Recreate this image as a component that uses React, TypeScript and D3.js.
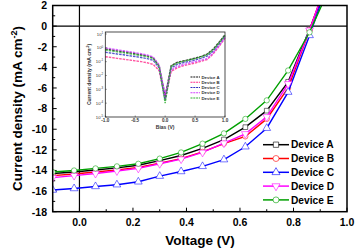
import React from 'react';
import * as d3 from 'd3';

// main J-V curves
const voltage = [-0.1, -0.02, 0.06, 0.14, 0.22, 0.3, 0.38, 0.46, 0.54, 0.62, 0.7, 0.78, 0.86, 0.94];
const deviceA = [-14.3, -14.15, -13.95, -13.75, -13.5, -13.05, -12.55, -11.85, -11.0, -9.8, -8.2, -5.4, -0.3, 5.0];
const deviceB = [-14.5, -14.35, -14.15, -13.95, -13.7, -13.3, -12.85, -12.2, -11.4, -10.7, -9.0, -6.0, -0.4, 5.5];
const deviceC = [-15.9, -15.75, -15.55, -15.38, -15.1, -14.55, -14.1, -13.6, -12.95, -11.7, -9.9, -6.4, -0.9, 5.0];
const deviceD = [-14.7, -14.5, -14.3, -14.05, -13.8, -13.35, -12.9, -12.25, -11.35, -10.45, -8.8, -5.6, -0.4, 5.5];
const deviceE = [-14.15, -14.0, -13.8, -13.6, -13.35, -12.85, -12.25, -11.4, -10.4, -9.0, -7.2, -4.3, -0.6, 4.0];

const devices = ['Device A', 'Device B', 'Device C', 'Device D', 'Device E'];
const xTicks = [0.0, 0.2, 0.4, 0.6, 0.8, 1.0];
const yTicks = [2, 0, -2, -4, -6, -8, -10, -12, -14, -16, -18];

// inset: dark current, log scale
const bias = [-1.0, -0.9, -0.8, -0.7, -0.6, -0.5, -0.4, -0.3, -0.2, -0.1, 0, 0.1, 0.2, 0.3, 0.4, 0.5, 0.6, 0.7, 0.8, 0.9, 1.0];
const darkA = [-0.08, -0.15, -0.22, -0.28, -0.35, -0.42, -0.5, -0.58, -0.72, -1.3, -3.5, -1.3, -1.05, -0.95, -0.85, -0.75, -0.62, -0.45, -0.1, 0.4, 0.95];
const darkB = [-0.64, -0.7, -0.76, -0.82, -0.88, -0.94, -1.0, -1.08, -1.2, -1.65, -3.7, -1.7, -1.45, -1.3, -1.2, -1.1, -0.98, -0.85, -0.45, 0.1, 0.7];
const darkC = [-0.32, -0.38, -0.45, -0.5, -0.57, -0.63, -0.7, -0.78, -0.9, -1.45, -3.8, -1.45, -1.2, -1.08, -0.98, -0.88, -0.76, -0.6, -0.25, 0.25, 0.85];
const darkD = [0.0, -0.07, -0.14, -0.21, -0.28, -0.35, -0.43, -0.52, -0.66, -1.25, -3.4, -1.6, -1.35, -1.22, -1.1, -1.0, -0.9, -0.78, -0.4, 0.15, 0.75];
const darkE = [-0.16, -0.22, -0.29, -0.35, -0.42, -0.49, -0.56, -0.64, -0.78, -1.35, -4.0, -1.35, -1.1, -0.98, -0.88, -0.78, -0.66, -0.5, -0.15, 0.35, 0.9];
const insetXTicks = [-1.0, -0.5, 0.0, 0.5, 1.0];
const insetYExp = [1, 0, -1, -2, -3, -4, -5];

const colors = ['#000000', '#ff0000', '#0000ff', '#ff00ff', '#00a000'];
const insetColors = ['#111111', '#ff2a8a', '#3030c0', '#d040ff', '#30b030'];
const symbols = [d3.symbolSquare, d3.symbolCircle, d3.symbolTriangle, d3.symbolTriangle, d3.symbolCircle];
const rotations = [0, 0, 0, 180, 0];

const W = 357, H = 252;
const left = 52.7, right = 347, top = 5.5, bottom = 211.7;

export default function App() {
  const x = d3.scaleLinear().domain([-0.1, 1.0]).range([left, right]);
  const y = d3.scaleLinear().domain([-18, 2]).range([bottom, top]);
  const series = [deviceA, deviceB, deviceC, deviceD, deviceE];
  const line = d3.line<number>().x((_, i) => x(voltage[i])).y(d => y(d));

  const ix = d3.scaleLinear().domain([-1, 1]).range([105.3, 225]);
  const iy = d3.scaleLog().domain([1e-5, 10]).range([117, 34]);
  const iTop = 32;
  const darkSeries = [darkA, darkB, darkC, darkD, darkE];
  const iline = d3.line<number>().x((_, i) => ix(bias[i])).y(d => iy(Math.pow(10, d)));

  const sym = (i: number, size: number) => d3.symbol().type(symbols[i]).size(size)() as string;
  const font = 'Arial, "Liberation Sans", sans-serif';

  const minorX = d3.range(-0.1, 1.0001, 0.1);
  const minorY = d3.range(-18, 2.001, 1);

  return (
    <svg width={W} height={H} style={{ position: 'absolute', left: 0, top: 0, background: '#fff' }} fontFamily={font}>
      <defs>
        <clipPath id="plot">
          <rect x={left} y={top} width={right - left} height={bottom - top} />
        </clipPath>
      </defs>
      {/* zero lines */}
      <line x1={x(0)} x2={x(0)} y1={top} y2={bottom} stroke="#000" strokeWidth={1.2} />
      <line x1={left} x2={right} y1={y(0)} y2={y(0)} stroke="#000" strokeWidth={1.2} />

      {/* ticks */}
      {minorX.map((v, i) => {
        const major = Math.abs(Math.round(v * 10)) % 2 === 0;
        return <line key={'xt' + i} x1={x(v)} x2={x(v)} y1={bottom} y2={bottom - (major ? 4 : 2.5)} stroke="#000" strokeWidth={1} />;
      })}
      {minorY.map((v, i) => {
        const major = Math.abs(Math.round(v)) % 2 === 0;
        return <line key={'yt' + i} x1={left} x2={left + (major ? 4 : 2.5)} y1={y(v)} y2={y(v)} stroke="#000" strokeWidth={1} />;
      })}
      {xTicks.map(v => (
        <text key={'xl' + v} x={x(v)} y={bottom + 14} textAnchor="middle" fontSize={10.5} fontWeight="bold">{v.toFixed(1)}</text>
      ))}
      {yTicks.map(v => (
        <text key={'yl' + v} x={47} y={y(v) + 3.8} textAnchor="end" fontSize={10.5} fontWeight="bold">{v}</text>
      ))}

      {/* curves */}
      <g clipPath="url(#plot)">
        {series.map((s, i) => (
          <g key={devices[i]}>
            <path d={line(s) as string} fill="none" stroke={colors[i]} strokeWidth={1.4} />
            {s.map((d, j) => (
              <path key={j} d={sym(i, i === 2 || i === 3 ? 26 : 22)}
                transform={`translate(${x(voltage[j])},${y(d)}) rotate(${rotations[i]})`}
                fill="#fff" stroke={colors[i]} strokeOpacity={0.6} strokeWidth={0.9} />
            ))}
          </g>
        ))}
      </g>

      <rect x={left} y={top} width={right - left} height={bottom - top} fill="none" stroke="#000" strokeWidth={1.5} />

      {/* axis titles */}
      <text x={200} y={245} textAnchor="middle" fontSize={13.5} fontWeight="bold">Voltage (V)</text>
      <text transform={`translate(22,${(top + bottom) / 2}) rotate(-90)`} textAnchor="middle" fontSize={13.5} fontWeight="bold">
        Current density (mA cm<tspan dy={-5} fontSize={9}>-2</tspan><tspan dy={5}>)</tspan>
      </text>

      {/* legend */}
      {devices.map((name, i) => {
        const ly = 144.7 + i * 13.8;
        return (
          <g key={'lg' + name}>
            <line x1={263} x2={289} y1={ly} y2={ly} stroke={colors[i]} strokeWidth={1.5} />
            <path d={sym(i, 28)} transform={`translate(276,${ly}) rotate(${rotations[i]})`} fill="#fff" stroke={colors[i]} strokeOpacity={0.6} strokeWidth={1} />
            <text x={291} y={ly + 3.6} fontSize={10.2} fontWeight="bold">{name}</text>
          </g>
        );
      })}

      {/* inset */}
      <g>
        <rect x={ix(-1)} y={iTop} width={ix(1) - ix(-1)} height={117 - iTop} fill="#fff" stroke="none" />
        {darkSeries.map((s, i) => (
          <path key={'ds' + i} d={iline(s) as string} fill="none" stroke={insetColors[i]} strokeWidth={1.4} strokeDasharray="2.5,1" strokeOpacity={0.8} />
        ))}
        <rect x={ix(-1)} y={iTop} width={ix(1) - ix(-1)} height={117 - iTop} fill="none" stroke="#222" strokeWidth={0.8} />
        {insetXTicks.map(v => (
          <g key={'ixt' + v}>
            <line x1={ix(v)} x2={ix(v)} y1={117} y2={115.5} stroke="#222" strokeWidth={0.5} />
            <text x={ix(v)} y={122} textAnchor="middle" fontSize={4.6} fontWeight="bold" fill="#333">{v.toFixed(1)}</text>
          </g>
        ))}
        {insetYExp.map(e => (
          <g key={'iyt' + e}>
            <line x1={ix(-1)} x2={ix(-1) + 1.5} y1={iy(Math.pow(10, e))} y2={iy(Math.pow(10, e))} stroke="#222" strokeWidth={0.5} />
            <text x={ix(-1) - 2.2} y={iy(Math.pow(10, e)) + 1.5} textAnchor="end" fontSize={4.2} fill="#333">
              10<tspan dy={-1.8} fontSize={2.9}>{e}</tspan>
            </text>
          </g>
        ))}
        <text x={ix(0)} y={128.5} textAnchor="middle" fontSize={5} fontWeight="bold" fill="#333">Bias (V)</text>
        <text transform={`translate(90.5,${(iTop + 117) / 2}) rotate(-90)`} textAnchor="middle" fontSize={5} fontWeight="bold" fill="#333">
          Current density (mA cm<tspan dy={-1.8} fontSize={3.4}>-2</tspan><tspan dy={1.8}>)</tspan>
        </text>
        {devices.map((name, i) => {
          const ly = 77 + i * 5.25;
          return (
            <g key={'ilg' + name}>
              <line x1={190.5} x2={200} y1={ly} y2={ly} stroke={insetColors[i]} strokeWidth={1.2} strokeDasharray="2,0.8" />
              <text x={201.5} y={ly + 1.5} fontSize={4.3} fontWeight="bold" fill="#333">{name}</text>
            </g>
          );
        })}
      </g>
    </svg>
  );
}
